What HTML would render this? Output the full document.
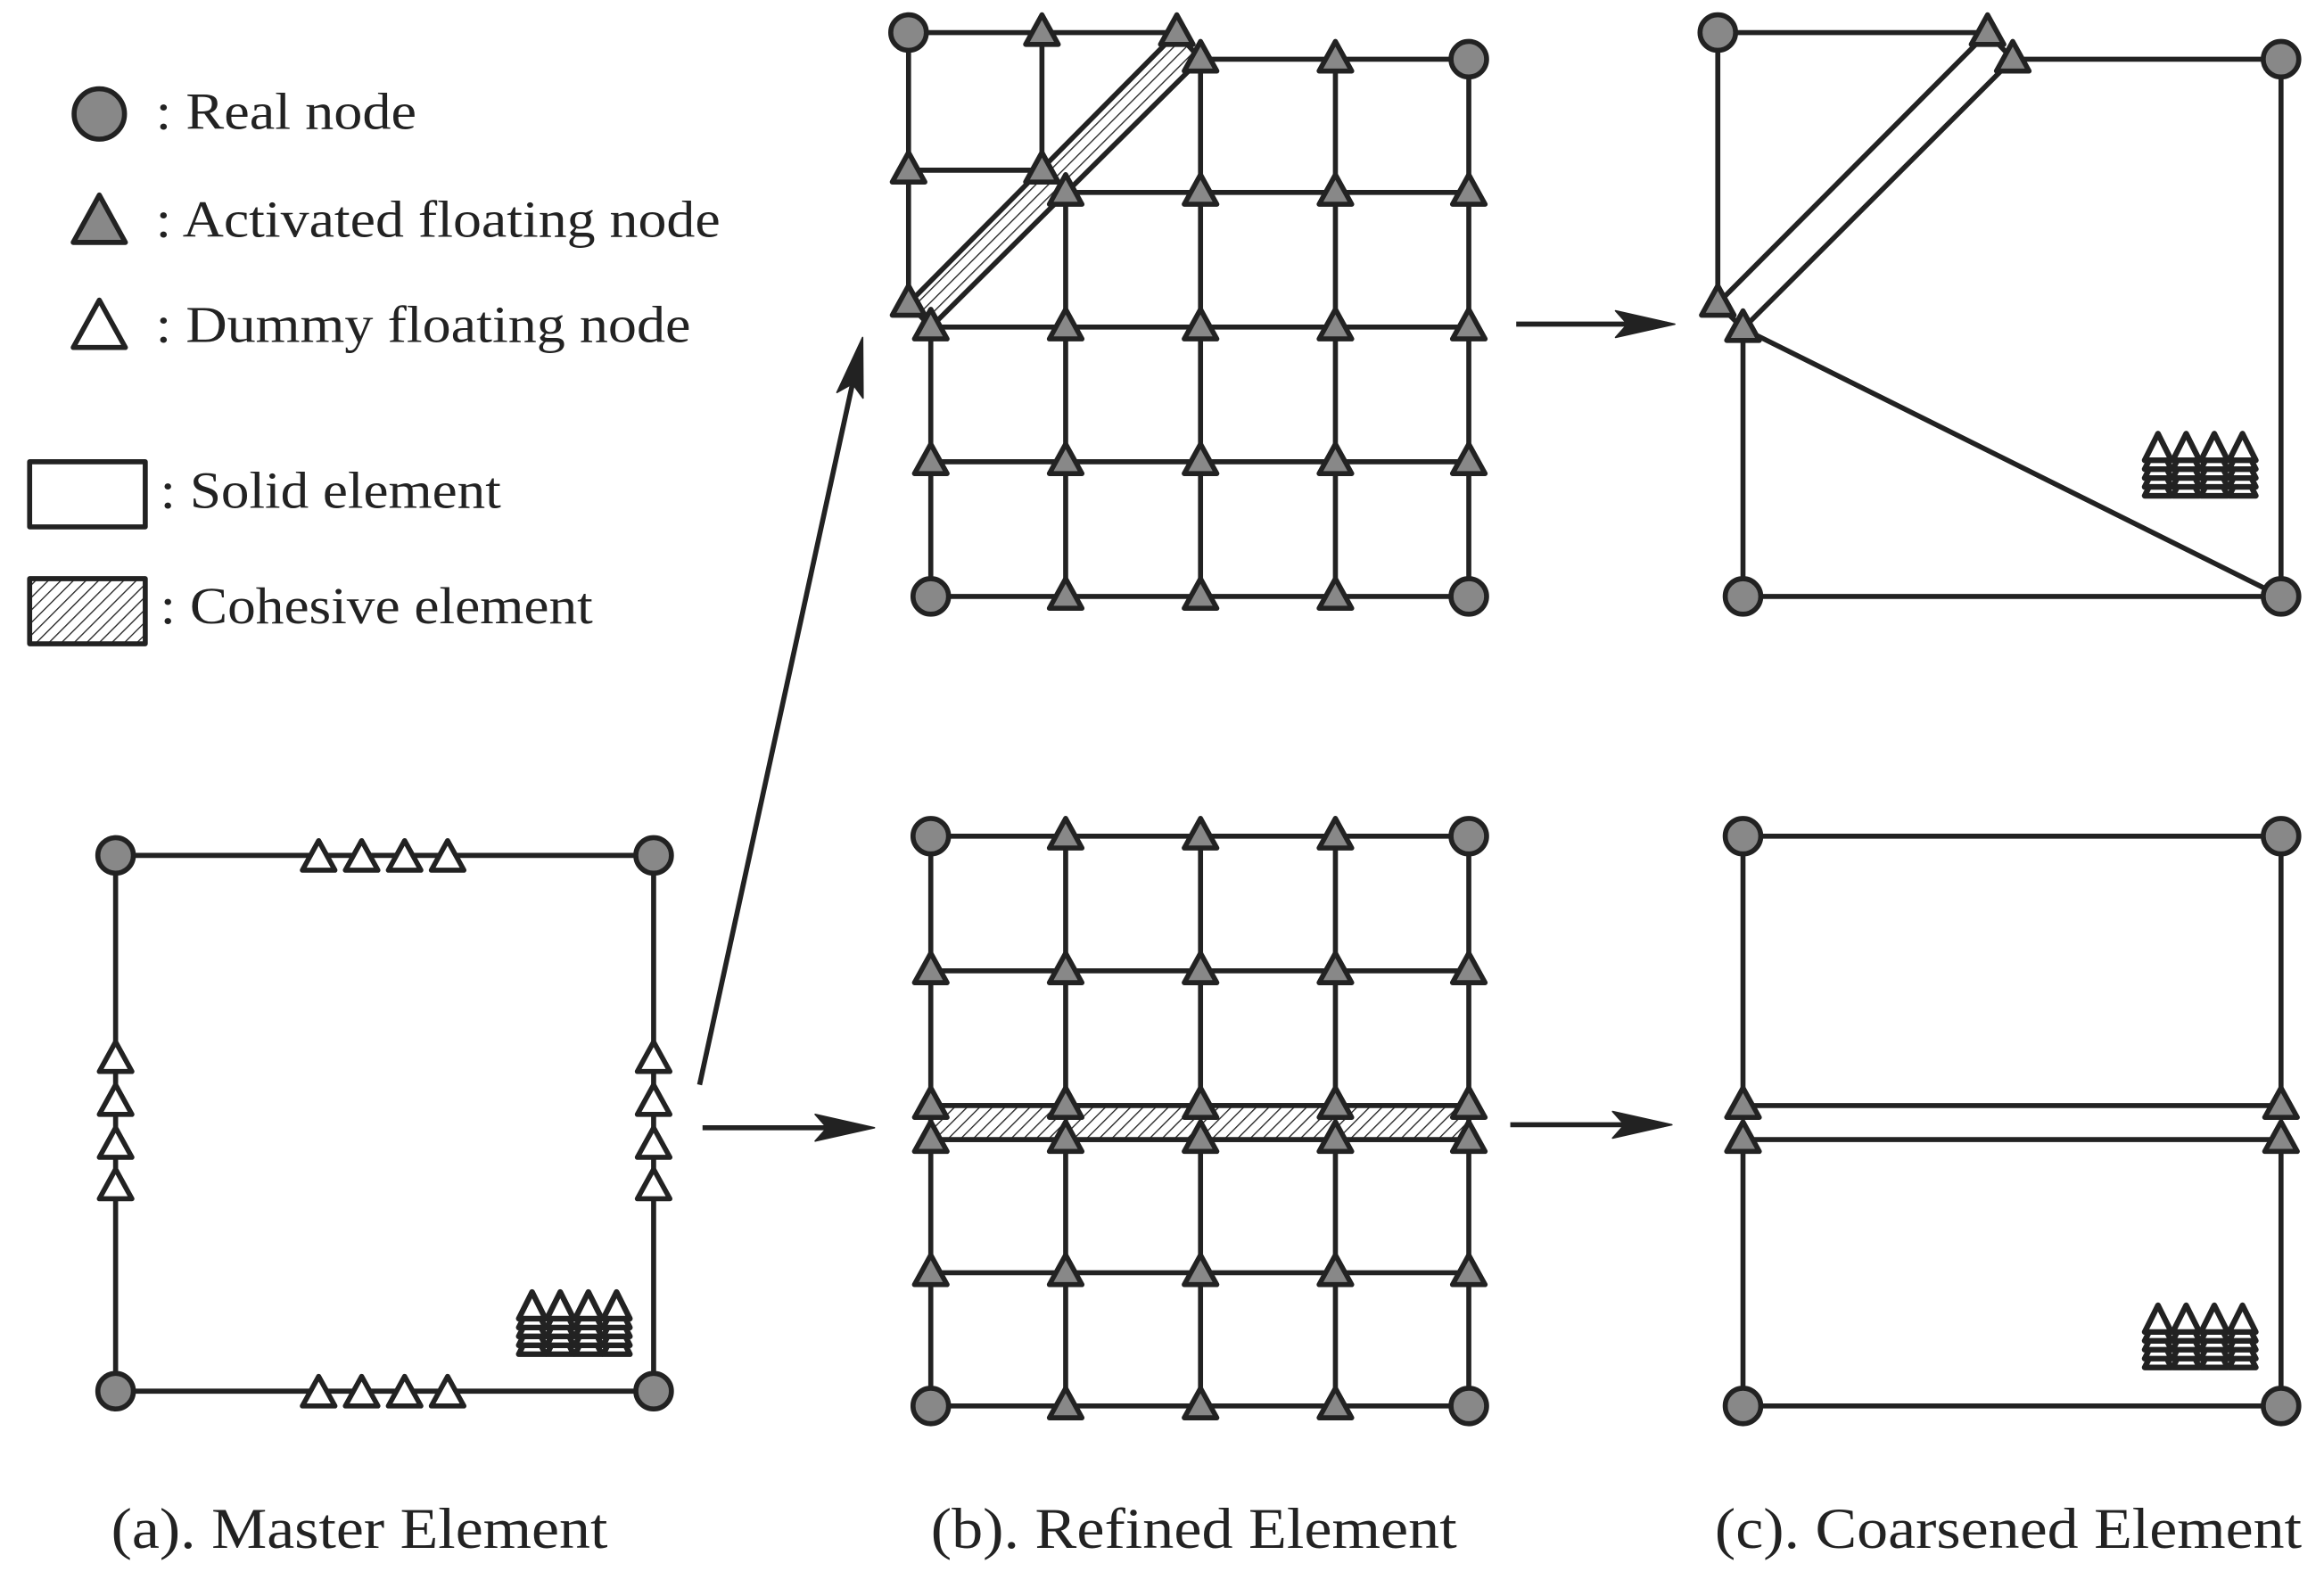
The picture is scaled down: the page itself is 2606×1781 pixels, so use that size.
<!DOCTYPE html>
<html><head><meta charset="utf-8"><style>
html,body{margin:0;padding:0;background:#fff;}
svg{display:block}
text{font-family:"Liberation Serif",serif;fill:#222}
</style></head><body>
<svg id="s" width="2606" height="1781" viewBox="0 0 1568 1073" preserveAspectRatio="none" xmlns="http://www.w3.org/2000/svg">
<defs>
<pattern id="h" patternUnits="userSpaceOnUse" width="6" height="6" patternTransform="rotate(45)">
<rect width="6" height="6" fill="#fff"/><line x1="0" y1="0" x2="0" y2="6" stroke="#222" stroke-width="1.6"/>
</pattern>
</defs>
<g id="g" stroke="#222" stroke-width="3.4" fill="none" stroke-linejoin="round"></g>
<text x="105" y="87" font-size="35" textLength="176" lengthAdjust="spacingAndGlyphs">: Real node</text>
<text x="105" y="160" font-size="35" textLength="381" lengthAdjust="spacingAndGlyphs">: Activated floating node</text>
<text x="105" y="231" font-size="35" textLength="361" lengthAdjust="spacingAndGlyphs">: Dummy floating node</text>
<text x="108" y="343" font-size="35" textLength="230" lengthAdjust="spacingAndGlyphs">: Solid element</text>
<text x="108" y="421" font-size="35" textLength="292" lengthAdjust="spacingAndGlyphs">: Cohesive element</text>
<text x="75" y="1046" font-size="39" textLength="335" lengthAdjust="spacingAndGlyphs">(a). Master Element</text>
<text x="628" y="1046" font-size="39" textLength="355" lengthAdjust="spacingAndGlyphs">(b). Refined Element</text>
<text x="1157" y="1046" font-size="39" textLength="396" lengthAdjust="spacingAndGlyphs">(c). Coarsened Element</text>
</svg>
<script>
var g=document.getElementById('g'),N='http://www.w3.org/2000/svg';
function el(t,a){var e=document.createElementNS(N,t);for(var k in a)e.setAttribute(k,a[k]);g.appendChild(e);return e;}
function L(x1,y1,x2,y2){el('line',{x1:x1,y1:y1,x2:x2,y2:y2});}
function C(x,y,r){el('circle',{cx:x,cy:y,r:r||12,fill:'#888'});}
function T(x,y,f,s){s=s||1;el('polygon',{points:(x)+','+(y-12*s)+' '+(x+11*s)+','+(y+8*s)+' '+(x-11*s)+','+(y+8*s),fill:f?'#888':'#fff'});}
function A(x1,y1,x2,y2){L(x1,y1,x2-(x2-x1)*0.05,y2-(y2-y1)*0.05);var a=Math.atan2(y2-y1,x2-x1),l=40,w=9;
el('polygon',{points:x2+','+y2+' '+(x2-l*Math.cos(a)+w*Math.sin(a))+','+(y2-l*Math.sin(a)-w*Math.cos(a))+' '+(x2-l*0.8*Math.cos(a))+','+(y2-l*0.8*Math.sin(a))+' '+(x2-l*Math.cos(a)-w*Math.sin(a))+','+(y2-l*Math.sin(a)+w*Math.cos(a)),fill:'#222','stroke-width':1});}
function icon(x,y){for(var c=0;c<4;c++)for(var r=4;r>=0;r--){var cx=x+9+c*19,yy=y+r*6;
el('polygon',{points:cx+','+yy+' '+(cx+9)+','+(yy+18)+' '+(cx-9)+','+(yy+18),fill:'#fff','stroke-width':3.8});}}
// legend
C(67,77,17);T(67,151,1,1.6);T(67,222,0,1.6);
el('rect',{x:20,y:312,width:78,height:44,fill:'#fff'});
el('rect',{x:20,y:391,width:78,height:44,fill:'url(#h)'});
// master
el('rect',{x:78,y:578,width:363,height:362});
[215,244,273,302].forEach(function(x){T(x,580,0);T(x,942,0);});
[716,745,774,802].forEach(function(y){T(78,y,0);T(441,y,0);});
C(78,578);C(441,578);C(78,940);C(441,940);
icon(350,873);
// arrows
A(472,733,582,228);A(474,762,590,762);A(1023,219,1130,219);A(1019,760,1128,760);
// refined top
var X=[628,719,810,901,991];
L(613,22,794,22);L(613,22,613,205);L(613,115,703,115);L(703,22,703,115);
L(810,40,991,40);L(719,130,991,130);
[221,312,403].forEach(function(y){L(628,y,991,y);});
L(628,221,628,403);L(719,130,719,403);L(810,40,810,403);L(901,40,901,403);L(991,40,991,403);
el('polygon',{points:'613,205 794,22 810,40 628,221',fill:'url(#h)'});
T(703,22,1);T(794,22,1);T(613,115,1);T(703,115,1);T(613,205,1);
T(810,40,1);T(901,40,1);[719,810,901,991].forEach(function(x){T(x,130,1);});
[221,312].forEach(function(y){X.forEach(function(x){T(x,y,1);});});
T(719,403,1);T(810,403,1);T(901,403,1);
C(613,22);C(991,40);C(628,403);C(991,403);
// refined bottom
[565,656,747,770,860,950].forEach(function(y){L(628,y,991,y);});
X.forEach(function(x){L(x,565,x,950);});
el('rect',{x:628,y:747,width:363,height:23,fill:'url(#h)'});
[565,656,747,770,860,950].forEach(function(y){X.forEach(function(x){
if((y==565||y==950)&&(x==628||x==991))return;T(x,y,1);});});
C(628,565);C(991,565);C(628,950);C(991,950);
// coarsened top
L(1159,22,1341,22);L(1159,22,1159,205);
el('polygon',{points:'1159,205 1341,22 1358,40 1176,222',fill:'#fff'});
L(1358,40,1539,40);L(1539,40,1539,403);L(1176,403,1539,403);L(1176,222,1176,403);L(1176,222,1539,403);
T(1341,22,1);T(1358,40,1);T(1159,205,1);T(1176,222,1);
C(1159,22);C(1539,40);C(1176,403);C(1539,403);
icon(1447,293);
// coarsened bottom
el('rect',{x:1176,y:565,width:363,height:182});
el('rect',{x:1176,y:770,width:363,height:180});
T(1176,747,1);T(1539,747,1);T(1176,770,1);T(1539,770,1);
C(1176,565);C(1539,565);C(1176,950);C(1539,950);
icon(1447,882);
</script>
</body></html>
